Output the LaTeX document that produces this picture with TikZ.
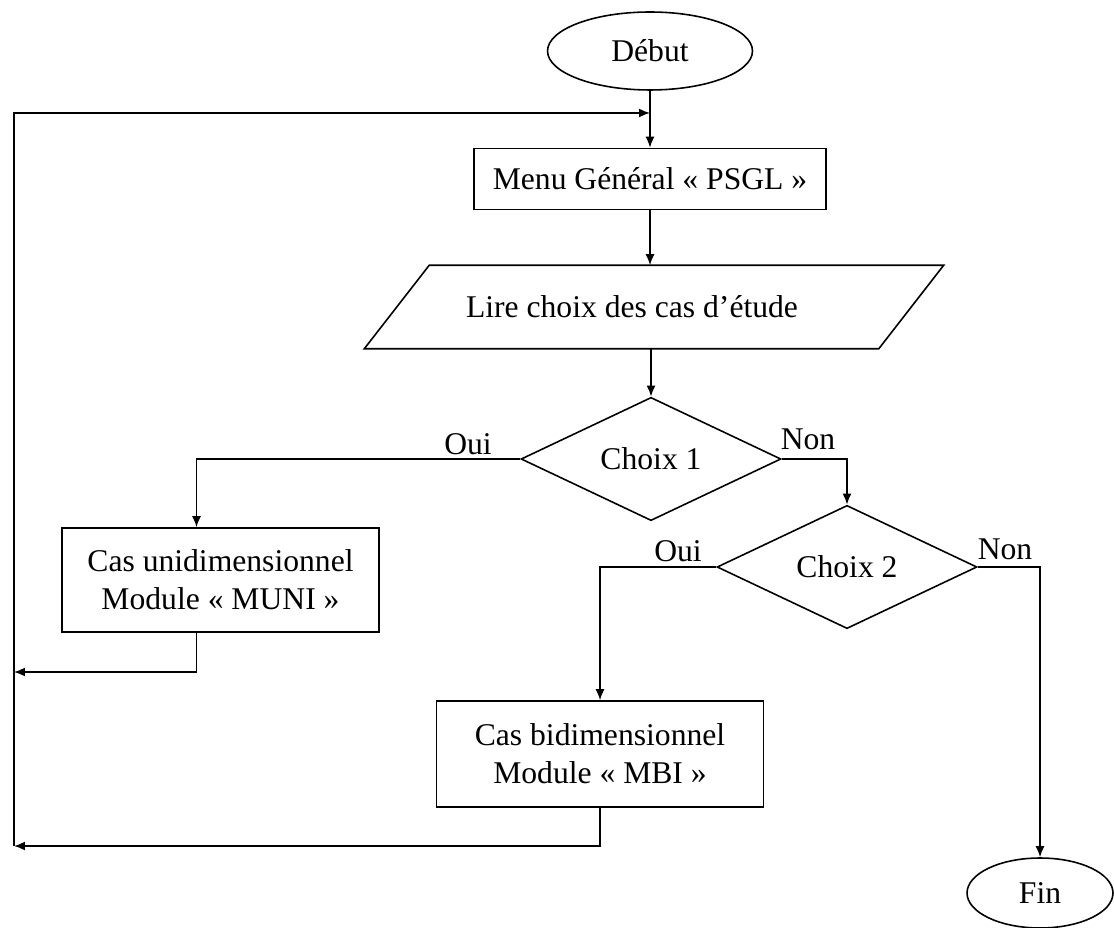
\documentclass[tikz,border=0pt]{standalone}
\usepackage{fontspec}
\setmainfont{Liberation Serif}
\usetikzlibrary{shapes.geometric, arrows.meta}

\begin{document}
\begin{tikzpicture}[x=0.02cm, y=-0.02cm, line width=0.9pt, >={Latex[length=2.2mm, width=1.8mm]},
    font=\fontsize{18}{21.5}\selectfont,
    boite/.style={draw, rectangle, align=center, inner sep=0pt},
    terminal/.style={draw, ellipse, inner sep=0pt},
    choix/.style={draw, diamond, inner sep=0pt, minimum width=5.2cm, minimum height=1.96cm}]
    \useasboundingbox[fill=white] (0,0) rectangle (1114,928);
    % Debut / Fin
    \node[terminal, minimum width=4.1cm, minimum height=1.56cm] (debut) at (650,51) {Début};
    \node[terminal, minimum width=2.92cm, minimum height=1.4cm] (fin) at (1040,893) {Fin};
    % Menu
    \node[boite, minimum width=7.04cm, minimum height=1.22cm] (menu) at (650,179) {Menu Général « PSGL »};
    % Lecture (parallelogramme)
    \node[minimum width=10.26cm, minimum height=1.64cm, inner sep=0pt] (lire) at (632,307) {Lire choix des cas d’étude};
    \draw ([xshift=-0.21cm]lire.south west) -- ([xshift=1.09cm]lire.north west)
        -- ([xshift=1.09cm]lire.north east) -- ([xshift=-0.21cm]lire.south east) -- cycle;
    % Tests
    \node[choix] (choix1) at (651,459) {Choix 1};
    \node[choix] (choix2) at (847,567) {Choix 2};
    \node (oui1) at (468,444) {Oui};
    \node (non1) at (808,439) {Non};
    \node (oui2) at (678,551) {Oui};
    \node (non2) at (1005,549) {Non};
    % Modules
    \node[boite, minimum width=6.34cm, minimum height=2.08cm] (muni) at (220.5,580) {Cas unidimensionnel\\Module « MUNI »};
    \node[boite, minimum width=6.54cm, minimum height=2.12cm] (mbi) at (600,754) {Cas bidimensionnel\\Module « MBI »};
    % Retours
    \coordinate (muniret) at (14,672);
    \coordinate (mbiret) at (14,846);
    \coordinate (boucle) at (14,113);

    \draw[->] (debut) -- (menu);
    \draw[->] (menu) -- (menu.south |- lire.north);
    \draw[->] (choix1.north |- lire.south) -- (choix1.north);
    \draw[->] (choix1.west) -| ([xshift=-0.48cm]muni.north);
    \draw[->] (choix1.east) -| (choix2.north);
    \draw[->] (choix2.west) -| (mbi.north);
    \draw[->] (choix2.east) -| (fin.north);
    \draw[->] ([xshift=-0.48cm]muni.south) |- (muniret);
    \draw[->] (mbi.south) |- (mbiret);
    \draw[->] (mbiret) -- (boucle) -- (boucle -| debut.south);
\end{tikzpicture}
\end{document}
